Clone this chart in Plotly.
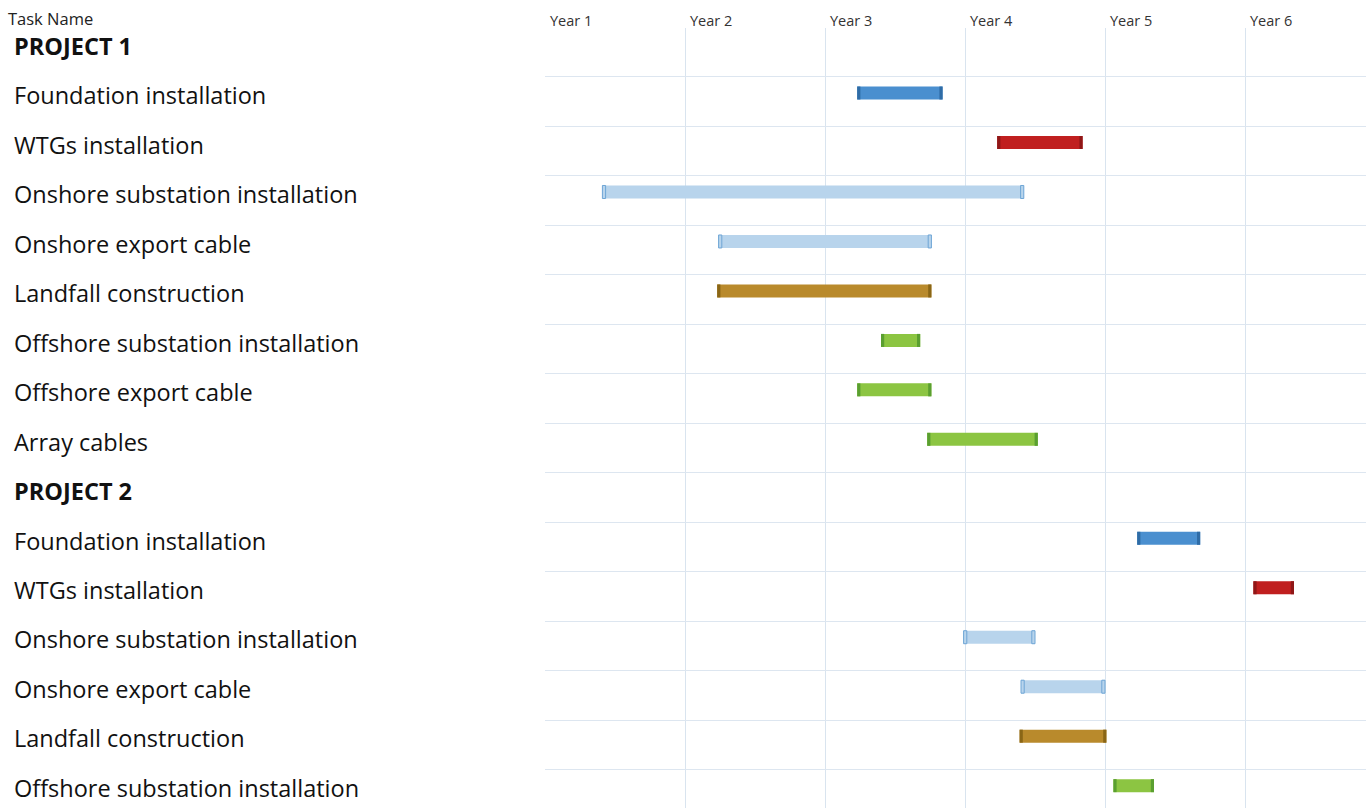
import plotly.graph_objects as go

# ---- data ----
row_labels = [
    "PROJECT 1",
    "Foundation installation", "WTGs installation", "Onshore substation installation",
    "Onshore export cable", "Landfall construction", "Offshore substation installation",
    "Offshore export cable", "Array cables",
    "PROJECT 2",
    "Foundation installation", "WTGs installation", "Onshore substation installation",
    "Onshore export cable", "Landfall construction", "Offshore substation installation",
]
is_header = [True, False, False, False, False, False, False, False, False,
             True, False, False, False, False, False, False]

# tasks with bars: row index, start (years), end (years), task type
bar_rows = [1, 2, 3, 4, 5, 6, 7, 8, 10, 11, 12, 13, 14, 15]
bar_start = [3.23, 4.23, 1.41, 2.24, 2.23, 3.40, 3.23, 3.73, 5.23, 6.06, 3.99, 4.40, 4.39, 5.06]
bar_end = [3.84, 4.84, 4.42, 3.76, 3.76, 3.68, 3.76, 4.52, 5.68, 6.35, 4.50, 5.00, 5.01, 5.35]
bar_type = ["foundation", "wtg", "onshore", "onshore", "landfall", "offshore", "offshore", "offshore",
            "foundation", "wtg", "onshore", "onshore", "landfall", "offshore"]

year_values = [1, 2, 3, 4, 5, 6]
year_labels = ["Year 1", "Year 2", "Year 3", "Year 4", "Year 5", "Year 6"]

# ---- styles ----
fill_colors = {"foundation": "#4a8fcf", "wtg": "#c01f1f", "onshore": "#b8d4ec",
               "landfall": "#b98a2c", "offshore": "#8cc542"}
cap_colors = {"foundation": "#2f6ca6", "wtg": "#8f1717", "onshore": "#6fa6d6",
              "landfall": "#8a6616", "offshore": "#5a9f30"}

W, H = 1366, 808
px_left = 545          # left edge of chart grid
px_per_year = 140
px_top = 27.5          # top of grid
row_h = 49.47
x0 = 1
x1 = x0 + (W - px_left) / px_per_year
y_bottom = (H - px_top) / row_h

bar_off = 0.325
text_off = 0.37
bar_w = 13 / row_h
cap_w = 3.2 / px_per_year

fig = go.Figure()

# main bars
for t in fill_colors:
    idx = [i for i, bt in enumerate(bar_type) if bt == t]
    fig.add_trace(go.Bar(
        orientation="h",
        y=[bar_rows[i] + bar_off for i in idx],
        base=[bar_start[i] for i in idx],
        x=[bar_end[i] - bar_start[i] for i in idx],
        width=bar_w,
        marker=dict(color=fill_colors[t], line=dict(width=0)),
        showlegend=False, hoverinfo="skip",
    ))
    # end caps
    fig.add_trace(go.Bar(
        orientation="h",
        y=[bar_rows[i] + bar_off for i in idx] * 2,
        base=[bar_start[i] for i in idx] + [bar_end[i] - cap_w for i in idx],
        x=[cap_w] * (2 * len(idx)),
        width=bar_w,
        marker=dict(color=cap_colors[t] if t != "onshore" else fill_colors[t],
                    line=dict(width=1 if t == "onshore" else 0, color=cap_colors[t])),
        showlegend=False, hoverinfo="skip",
    ))

# left-hand task names
for i, (lab, hdr) in enumerate(zip(row_labels, is_header)):
    fig.add_annotation(
        xref="paper", yref="y", x=12 / W, y=i + text_off,
        text=f"<b>{lab}</b>" if hdr else lab,
        showarrow=False, xanchor="left", yanchor="middle",
        font=dict(family="Open Sans", size=23.5, color="#111111"),
    )

# header texts
fig.add_annotation(xref="paper", yref="paper", x=6 / W, y=1 - 18 / H, text="Task Name",
                   showarrow=False, xanchor="left", yanchor="middle",
                   font=dict(family="Open Sans", size=16.5, color="#222222"))
for v, lab in zip(year_values, year_labels):
    fig.add_annotation(xref="x", yref="paper", x=v + 3 / px_per_year, y=1 - 20 / H, text=lab,
                       showarrow=False, xanchor="left", yanchor="middle",
                       font=dict(family="Open Sans", size=14.5, color="#333333"))

fig.update_layout(
    width=W, height=H,
    margin=dict(l=0, r=0, t=0, b=0),
    paper_bgcolor="white", plot_bgcolor="white",
    barmode="overlay",
    xaxis=dict(domain=[px_left / W, 1], range=[x0, x1], tickvals=year_values[1:],
               showticklabels=False, showgrid=True, gridcolor="#d9e4ef", gridwidth=1,
               zeroline=False, showline=False, ticks=""),
    yaxis=dict(domain=[0, 1 - px_top / H], range=[y_bottom, 0],
               tickvals=list(range(1, len(row_labels))), showticklabels=False,
               showgrid=True, gridcolor="#dde6f0", gridwidth=1,
               zeroline=False, showline=False, ticks=""),
)

fig.write_html("out.html", config={"displayModeBar": False},
               post_script="document.body.style.margin='0';document.body.style.overflow='hidden';")
